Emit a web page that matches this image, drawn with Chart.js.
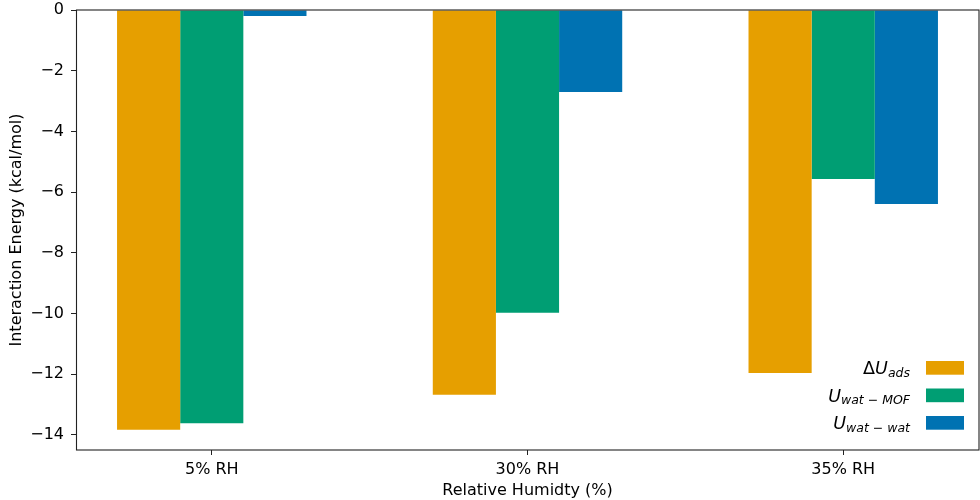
<!DOCTYPE html>
<html>
<head>
<meta charset="utf-8">
<script src="https://cdn.jsdelivr.net/npm/chart.js@4"></script>
<style>
  html, body { margin: 0; padding: 0; background: #fff; }
  #wrap { width: 980px; height: 500px; }
</style>
</head>
<body>
<div id="wrap"><canvas id="chart"></canvas></div>
<script>
// Data
const categories = ['5% RH', '30% RH', '35% RH'];
const deltaUads = [-13.83, -12.68, -11.96];
const uWatMof = [-13.62, -9.98, -5.57];
const uWatWat = [-0.2, -2.7, -6.39];
const yTicks = [0, -2, -4, -6, -8, -10, -12, -14];

const seriesNames = ['ΔU_ads', 'U_wat-MOF', 'U_wat-wat'];
const seriesColors = ['#E69F00', '#009E73', '#0072B2'];

const FONT = "'DejaVu Sans', sans-serif";
Chart.defaults.font.family = FONT;
Chart.defaults.color = '#000';

function toPoints(values) {
  return values.map((v, i) => ({ x: i, y: v }));
}

// mathtext-like legend labels: [text, italic, subscript]
const legendParts = [
  [['Δ', false, false], ['U', true, false], ['ads', true, true]],
  [['U', true, false], ['wat', true, true], [' − ', false, true], ['MOF', true, true]],
  [['U', true, false], ['wat', true, true], [' − ', false, true], ['wat', true, true]]
];

function partFont(p) {
  const size = p[2] ? 12.5 : 17.5;
  return (p[1] ? 'oblique ' : '') + size + 'px ' + FONT;
}

const framePlugin = {
  id: 'frame',
  afterDatasetsDraw(chart) {
    const { ctx, chartArea: a } = chart;
    ctx.save();
    ctx.strokeStyle = '#222';
    ctx.lineWidth = 1.1;
    ctx.strokeRect(a.left + 0.5, a.top, a.right - a.left - 0.5, a.bottom - a.top);
    ctx.restore();
  },
  afterDraw(chart) {
    const { ctx } = chart;
    ctx.save();
    ctx.textBaseline = 'alphabetic';
    ctx.fillStyle = '#000';
    legendParts.forEach((parts, r) => {
      const boxTop = 361 + r * 27.5;
      const base = boxTop + 13;
      let w = 0;
      parts.forEach(p => { ctx.font = partFont(p); w += ctx.measureText(p[0]).width; });
      let x = 910 - w;
      parts.forEach(p => {
        ctx.font = partFont(p);
        ctx.fillText(p[0], x, base + (p[2] ? 2.5 : 0));
        x += ctx.measureText(p[0]).width;
      });
      ctx.fillStyle = seriesColors[r];
      ctx.fillRect(926, boxTop, 38, 13.7);
      ctx.fillStyle = '#000';
    });
    ctx.restore();
  }
};

new Chart(document.getElementById('chart'), {
  type: 'bar',
  data: {
    datasets: [deltaUads, uWatMof, uWatWat].map((vals, i) => ({
      label: seriesNames[i],
      data: toPoints(vals),
      backgroundColor: seriesColors[i],
      borderWidth: 0,
      categoryPercentage: 0.6,
      barPercentage: 1.0
    }))
  },
  options: {
    responsive: true,
    maintainAspectRatio: false,
    animation: false,
    layout: { padding: { top: 10, right: 1, left: 0, bottom: 0 } },
    plugins: { legend: { display: false }, tooltip: { enabled: false } },
    scales: {
      x: {
        type: 'linear',
        offset: false,
        min: -0.43,
        max: 2.43,
        afterBuildTicks: s => { s.ticks = categories.map((c, i) => ({ value: i })); },
        afterFit: s => { s.height = 50; s.paddingLeft = 0; s.paddingRight = 0; },
        ticks: {
          callback: v => categories[v],
          font: { size: 16 },
          padding: 5,
          maxRotation: 0
        },
        grid: { offset: false, drawOnChartArea: false, drawTicks: true, tickLength: 5, color: '#222' },
        border: { display: false },
        title: { display: true, text: 'Relative Humidty (%)', font: { size: 16 }, padding: { top: 0, bottom: 0 } }
      },
      y: {
        min: -14.5,
        max: 0,
        afterBuildTicks: s => { s.ticks = yTicks.map(v => ({ value: v })); },
        afterFit: s => { s.width = 76; s.paddingTop = 0; s.paddingBottom = 0; },
        ticks: {
          callback: v => String(v).replace('-', '−'),
          font: { size: 16 },
          padding: 7
        },
        grid: { drawOnChartArea: false, drawTicks: true, tickLength: 5, color: '#222' },
        border: { display: false },
        title: { display: true, text: 'Interaction Energy (kcal/mol)', font: { size: 16 }, padding: { top: 7, bottom: 0 } }
      }
    }
  },
  plugins: [framePlugin]
});
</script>
</body>
</html>
